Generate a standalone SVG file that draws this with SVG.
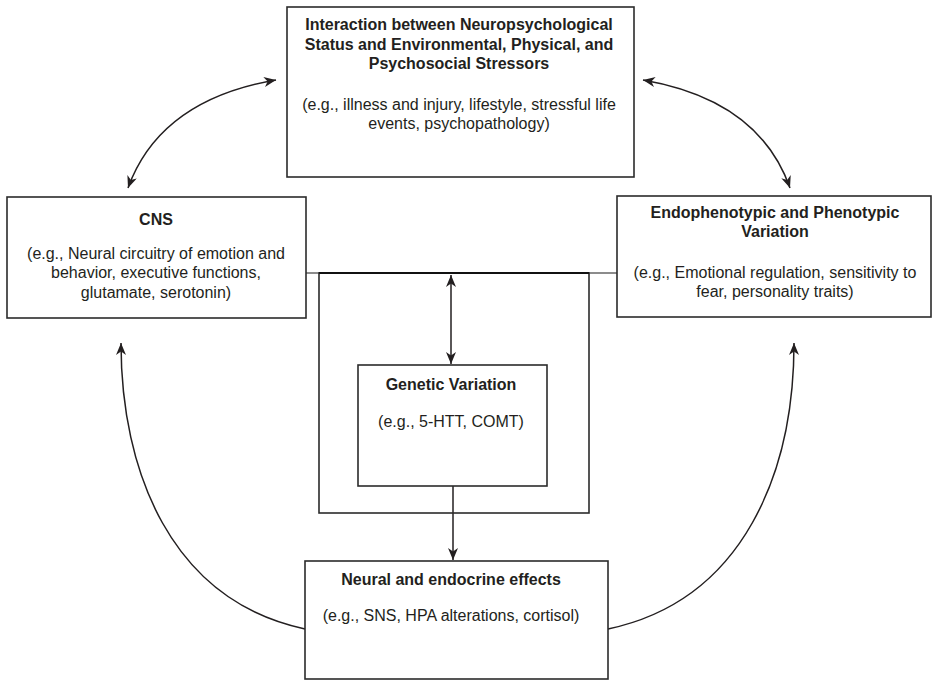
<svg xmlns="http://www.w3.org/2000/svg" width="932" height="681" viewBox="0 0 932 681">
<style>
.box{fill:#fff;stroke:#2b2b2b;stroke-width:1.6}
.t{font-family:"Liberation Sans",Arial,sans-serif;font-size:16px;fill:#231f20;text-anchor:middle}
.b{font-weight:bold}
.c{fill:none;stroke:#231f20;stroke-width:1.5}
.g{fill:none;stroke:#666;stroke-width:1.6}
</style>
<defs>
<marker id="ah" markerUnits="userSpaceOnUse" markerWidth="14" markerHeight="12" refX="12" refY="5" orient="auto-start-reverse">
<path d="M0,0 L12,5 L0,10 L3.5,5 Z" fill="#231f20"/>
</marker>
</defs>
<rect width="932" height="681" fill="#fff"/>

<g id="connectors">
<line class="g" x1="306" y1="273" x2="617" y2="273"/>
<path class="c" d="M128,188 Q160,100 276,80" marker-start="url(#ah)" marker-end="url(#ah)"/>
<path class="c" d="M790,188 Q759,100 643,80" marker-start="url(#ah)" marker-end="url(#ah)"/>
<path class="c" d="M305,629 C170,600 121,470 121,343" marker-end="url(#ah)"/>
<path class="c" d="M608,629 C745,600 794,470 794,343" marker-end="url(#ah)"/>
<line class="c" x1="451" y1="275" x2="451" y2="364" marker-start="url(#ah)" marker-end="url(#ah)"/>
<line class="c" x1="453" y1="486" x2="453" y2="560" marker-end="url(#ah)"/>
</g>

<g id="genetic-frame">
<rect x="319" y="273" width="270" height="240" fill="none" stroke="#2b2b2b" stroke-width="1.6"/>
<line x1="319" y1="273" x2="589" y2="273" stroke="#111" stroke-width="2.2"/>
</g>

<g id="stressors">
<rect class="box" x="287" y="7" width="347" height="170"/>
<text class="t b" x="459" y="30">Interaction between Neuropsychological</text>
<text class="t b" x="459" y="50">Status and Environmental, Physical, and</text>
<text class="t b" x="459" y="69">Psychosocial Stressors</text>
<text class="t" x="459" y="110">(e.g., illness and injury, lifestyle, stressful life</text>
<text class="t" x="459" y="129">events, psychopathology)</text>
</g>

<g id="cns">
<rect class="box" x="7" y="197" width="299" height="121"/>
<text class="t b" x="156" y="225">CNS</text>
<text class="t" x="156" y="259">(e.g., Neural circuitry of emotion and</text>
<text class="t" x="156" y="278">behavior, executive functions,</text>
<text class="t" x="156" y="298">glutamate, serotonin)</text>
</g>

<g id="phenotype">
<rect class="box" x="617" y="196" width="314" height="121"/>
<text class="t b" x="775" y="218">Endophenotypic and Phenotypic</text>
<text class="t b" x="775" y="237">Variation</text>
<text class="t" x="775" y="278">(e.g., Emotional regulation, sensitivity to</text>
<text class="t" x="775" y="297">fear, personality traits)</text>
</g>

<g id="genetic">
<rect class="box" x="358" y="365" width="189" height="121"/>
<text class="t b" x="451" y="390">Genetic Variation</text>
<text class="t" x="451" y="427">(e.g., 5-HTT, COMT)</text>
</g>

<g id="neural">
<rect class="box" x="305" y="561" width="303" height="118"/>
<text class="t b" x="451" y="585">Neural and endocrine effects</text>
<text class="t" x="451" y="621">(e.g., SNS, HPA alterations, cortisol)</text>
</g>
</svg>
